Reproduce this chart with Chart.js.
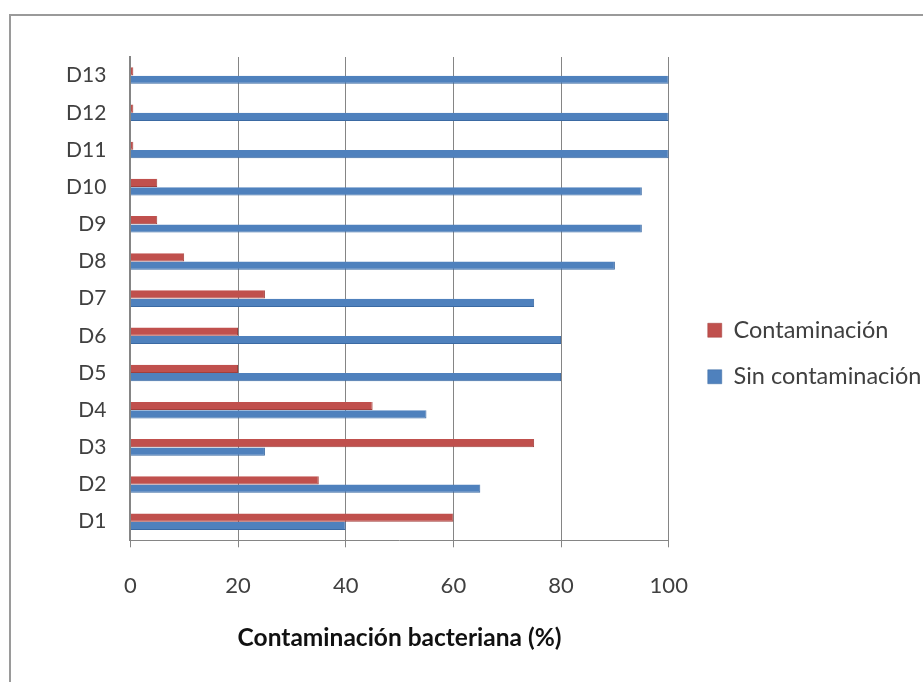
<!DOCTYPE html>
<html>
<head>
<meta charset="utf-8">
<script src="https://cdn.jsdelivr.net/npm/chart.js@4.4.1/dist/chart.umd.min.js"></script>
<style>
  html, body { margin: 0; padding: 0; background: #fff; overflow: hidden; }
  #wrap { position: relative; width: 923px; height: 682px; }
  #frame { position: absolute; left: 9px; top: 14px; width: 1000px; height: 800px;
           border: 2px solid #9a9a9a; box-sizing: border-box; }
  canvas { position: absolute; left: 0; top: 0; }
</style>
</head>
<body>
<div id="wrap">
  <div id="frame"></div>
  <canvas id="c" width="923" height="682"></canvas>
</div>
<script>
// Muestras D1..D13: porcentaje con y sin contaminación bacteriana
const muestras = ['D1','D2','D3','D4','D5','D6','D7','D8','D9','D10','D11','D12','D13'];
const contaminacion    = [60, 35, 75, 45, 20, 20, 25, 10,  5,  5,   0,   0,   0];
const sinContaminacion = [40, 65, 25, 55, 80, 80, 75, 90, 95, 95, 100, 100, 100];
const ticksX = [0, 20, 40, 60, 80, 100];

// D1 abajo, D13 arriba
const etiquetas = muestras.slice().reverse();
const serieRoja = contaminacion.slice().reverse();
const serieAzul = sinContaminacion.slice().reverse();

const fuente = 'Lato, "Open Sans", sans-serif';

// Separa la leyenda del área del gráfico y le deja espacio hasta el borde derecho
const desplazarLeyenda = {
  id: 'desplazarLeyenda',
  afterLayout(chart) {
    if (chart.legend) { chart.legend.left += 16; chart.legend.right = chart.width; }
  }
};

new Chart(document.getElementById('c'), {
  type: 'bar',
  data: {
    labels: etiquetas,
    datasets: [
      {
        label: 'Contaminación',
        data: serieRoja,
        backgroundColor: '#c0504d',
        borderColor: '#a13f3c',
        borderWidth: { top: 0, left: 0, right: 1, bottom: 1 },
        minBarLength: 3
      },
      {
        label: 'Sin contaminación',
        data: serieAzul,
        backgroundColor: '#4f81bd',
        borderColor: '#3b6aa3',
        borderWidth: { top: 0, left: 0, right: 1, bottom: 1 },
        minBarLength: 3
      }
    ]
  },
  options: {
    indexAxis: 'y',
    responsive: false,
    animation: false,
    layout: { padding: { left: 50, top: 57, right: 48, bottom: 32 } },
    datasets: { bar: { categoryPercentage: 0.45, barPercentage: 0.98 } },
    scales: {
      x: {
        min: 0, max: 100,
        afterBuildTicks: (axis) => { axis.ticks = ticksX.map(v => ({ value: v })); },
        grid: { color: '#858585', lineWidth: 1, tickLength: 7, drawOnChartArea: true },
        border: { display: true, color: '#858585', width: 1 },
        ticks: { color: '#404040', font: { family: fuente, size: 22, lineHeight: 1.1 }, padding: 27 },
        title: {
          display: true,
          text: 'Contaminación bacteriana (%)',
          color: '#111',
          font: { family: fuente, size: 24.5, weight: 'bold', lineHeight: 1.0 },
          padding: { top: 0, bottom: 0 }
        }
      },
      y: {
        grid: { display: false },
        border: { display: true, color: '#858585', width: 2 },
        ticks: { color: '#404040', font: { family: fuente, size: 21 }, padding: 16 }
      }
    },
    plugins: {
      legend: {
        position: 'right',
        labels: {
          color: '#404040',
          font: { family: fuente, size: 23.5 },
          boxWidth: 14, boxHeight: 14, padding: 23,
          useBorderRadius: false
        }
      },
      tooltip: { enabled: false }
    }
  },
  plugins: [desplazarLeyenda]
});
</script>
</body>
</html>
